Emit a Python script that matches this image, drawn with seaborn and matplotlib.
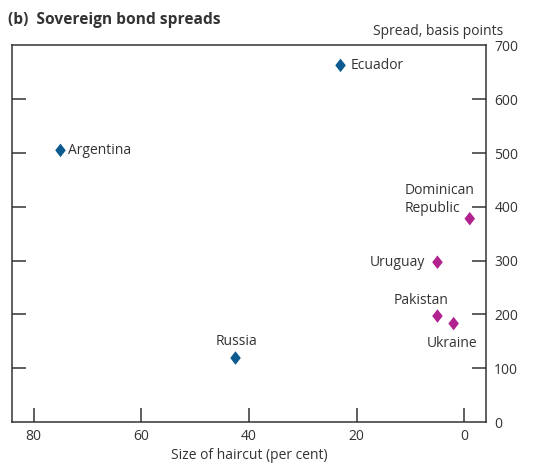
import matplotlib
matplotlib.use("Agg")
import matplotlib.pyplot as plt
import seaborn as sns
import pandas as pd

# Sovereign debt restructurings: haircut vs. subsequent bond spread
countries = ["Argentina", "Ecuador", "Russia", "Dominican\nRepublic",
             "Uruguay", "Pakistan", "Ukraine"]
haircut = [75, 23, 42.5, -1, 5, 5, 2]
spread = [505, 663, 119, 378, 297, 197, 183]
group = ["large", "large", "large", "small", "small", "small", "small"]

palette = {"large": "#0c5a8f", "small": "#b1228f"}
text_color = "#333333"

sns.set_theme(style="white")
plt.rcParams["font.family"] = ["Open Sans", "DejaVu Sans"]
plt.rcParams["text.color"] = text_color

df = pd.DataFrame({"country": countries, "haircut": haircut,
                   "spread": spread, "group": group})

fig = plt.figure(figsize=(5.41, 4.66), dpi=100)
ax = fig.add_axes([0.0222, 0.0944, 0.876, 0.808])

diamond = [(0, 1), (0.78, 0), (0, -1), (-0.78, 0), (0, 1)]
sns.scatterplot(data=df, x="haircut", y="spread", hue="group",
                palette=palette, marker=diamond, s=95, linewidth=0,
                legend=False, ax=ax, zorder=3)

ax.set_xlim(84, -4)
ax.set_ylim(0, 700)
ax.set_xticks([80, 60, 40, 20, 0])
ax.set_yticks(range(0, 701, 100))

for side in ["left", "right", "top", "bottom"]:
    ax.spines[side].set_visible(True)
    ax.spines[side].set_color(text_color)
    ax.spines[side].set_linewidth(1.1)

ax.tick_params(axis="x", direction="in", length=10, width=1.1,
               color=text_color, labelcolor=text_color, labelsize=10,
               pad=5, top=False, bottom=True)
ax.tick_params(axis="y", direction="in", length=10, width=1.1,
               color=text_color, labelcolor=text_color, labelsize=10,
               pad=6, left=True, right=True, labelleft=False,
               labelright=True)
# no tick marks at the frame edges
for t in ax.yaxis.get_major_ticks():
    if t.get_loc() in (0, 700):
        t.tick1line.set_visible(False)
        t.tick2line.set_visible(False)

ax.set_xlabel("Size of haircut (per cent)", fontsize=10, color=text_color,
              labelpad=3)
ax.set_ylabel("")

# country labels, offsets in pixels on screen
fs = 10
label_pos = {
    "Argentina": dict(dx=8, dy=0, ha="left"),
    "Ecuador": dict(dx=10, dy=0, ha="left"),
    "Russia": dict(dx=1, dy=16, ha="center"),
    "Dominican\nRepublic": dict(dx=-65, dy=19, ha="left"),
    "Uruguay": dict(dx=-12, dy=0, ha="right"),
    "Pakistan": dict(dx=-16, dy=16, ha="center"),
    "Ukraine": dict(dx=-2, dy=-20, ha="center"),
}
for c, x, y in zip(countries, haircut, spread):
    p = label_pos[c]
    ax.annotate(c, (x, y), xytext=(p["dx"] * 0.72, p["dy"] * 0.72),
                textcoords="offset points", ha=p["ha"], va="center",
                fontsize=fs, color=text_color, linespacing=1.3)

fig.text(0.015, 0.958, "(b)  Sovereign bond spreads", fontsize=11.2,
         fontweight="bold", color=text_color, ha="left", va="center")
fig.text(0.93, 0.932, "Spread, basis points", fontsize=10,
         color=text_color, ha="right", va="center")

fig.savefig("out.png", dpi=100)
